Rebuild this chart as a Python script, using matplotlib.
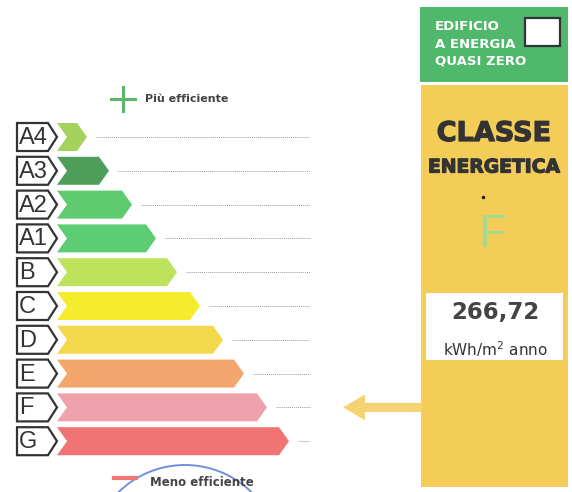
import matplotlib
matplotlib.use("Agg")
import matplotlib.pyplot as plt
import matplotlib.patheffects as pe
from matplotlib.patches import Polygon, Rectangle, Arc, FancyArrow

# energy classes, from most to least efficient
classes = ["A4", "A3", "A2", "A1", "B", "C", "D", "E", "F", "G"]
colors = ["#a5d25c", "#4f9e5c", "#5fcb6e", "#5ccd72", "#bde35c",
          "#f4ec2c", "#f3d84c", "#f4a76c", "#f0a2ac", "#f07474"]
# right tip of each coloured arrow (px)
tips = [87, 109, 132, 156, 177, 200, 223, 244, 267, 289]

current_class = "F"
ep_value = "266,72"
ep_unit = "kWh/m$^{2}$ anno"

W, H = 572, 492
fig = plt.figure(figsize=(W / 100, H / 100), dpi=100)
ax = fig.add_axes([0, 0, 1, 1])
ax.set_xlim(0, W)
ax.set_ylim(H, 0)
ax.axis("off")

row0, step, hh = 137, 33.8, 14

for i, (c, col, tip) in enumerate(zip(classes, colors, tips)):
    y = row0 + i * step
    # white label with black outline
    lab = Polygon([[17, y - hh], [48, y - hh], [57, y], [48, y + hh], [17, y + hh]],
                  closed=True, fc="white", ec="#333333", lw=1.6)
    ax.add_patch(lab)
    ax.text(19, y + 1, c, fontsize=17, family="Liberation Sans", color="#333333",
            va="center", ha="left")
    # coloured chevron arrow
    arr = Polygon([[57, y - hh], [tip - 10, y - hh], [tip, y], [tip - 10, y + hh],
                   [57, y + hh], [67, y]], closed=True, fc=col, ec="none")
    ax.add_patch(arr)
    # dotted guide line
    ax.plot([tip + 9, 310], [y, y], color="#9a9a9a", lw=0.7, ls=(0, (1, 1)))

# top / bottom legend
ax.plot([111, 135], [99, 99], color="#5bb86a", lw=2.2)
ax.plot([123, 123], [87, 111], color="#5bb86a", lw=2.2)
ax.text(145, 99, "Più efficiente", fontsize=8, fontweight="bold", color="#444444",
        va="center", ha="left")
ax.plot([114, 136], [478, 478], color="#f07474", lw=3)
# stamp edge
ax.add_patch(Arc((185, 560), 190, 190, theta1=200, theta2=340, color="#6f8fe4", lw=1.4))
ax.text(150, 482, "Meno efficiente", fontsize=8.5, fontweight="bold", color="#444444",
        va="center", ha="left")

# green nZEB box
ax.add_patch(Rectangle((420, 7), 148, 75, fc="#4fb86c", ec="none"))
for k, line in enumerate(["EDIFICIO", "A ENERGIA", "QUASI ZERO"]):
    ax.text(435, 27 + k * 17, line, fontsize=9.5, fontweight="bold", color="white",
            va="center", ha="left")
ax.add_patch(Rectangle((525, 18), 35, 28, fc="white", ec="#333333", lw=1.6))

# yellow class panel
ax.add_patch(Rectangle((421, 85), 147, 402, fc="#f3cd58", ec="none"))
heavy = [pe.withStroke(linewidth=0.9, foreground="#333333")]
ax.text(494, 134, "CLASSE", fontsize=19.5, fontweight="bold", color="#333333",
        ha="center", va="center", path_effects=heavy)
ax.text(494, 167, "ENERGETICA", fontsize=13.5, fontweight="bold", color="#333333",
        ha="center", va="center", path_effects=heavy)
ax.plot([483], [197], "o", color="#222222", ms=1.5)
ax.text(492, 235, current_class, fontsize=33, family="Liberation Sans", color="#a6d98c",
        ha="center", va="center")

ax.add_patch(Rectangle((426, 293), 137, 67, fc="white", ec="none"))
ax.text(495, 313, ep_value, fontsize=16.5, fontweight="bold", color="#444444",
        ha="center", va="center")
ax.text(495, 349, ep_unit, fontsize=11, color="#333333", ha="center", va="center")

# arrow pointing to current class row
yc = row0 + classes.index(current_class) * step
ax.add_patch(FancyArrow(422, yc, -79, 0, width=9, head_width=26, head_length=22,
                        length_includes_head=True, fc="#f5d272", ec="none"))

fig.savefig("out.png", dpi=100)
